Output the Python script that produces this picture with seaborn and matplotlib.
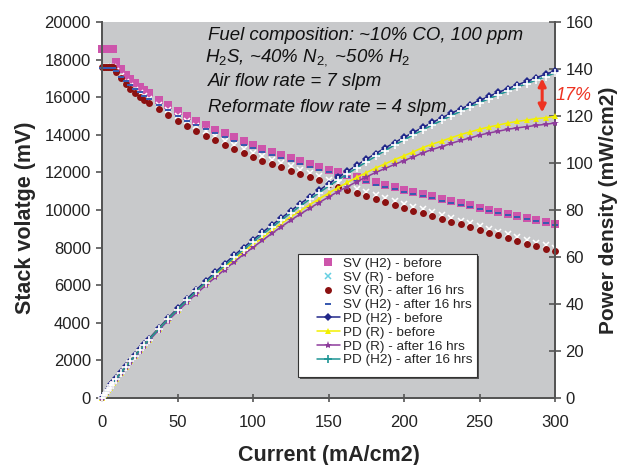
import matplotlib
matplotlib.use("Agg")
import matplotlib.pyplot as plt
import seaborn as sns
from matplotlib.lines import Line2D
from matplotlib.patches import Rectangle

# ---------------- data ----------------
current = [0, 1.25, 2.5, 3.75, 5, 6.25, 7.5, 9.375, 12.5, 15.625, 18.75, 21.875, 25, 28.125, 31.25,
           37.5, 43.75, 50, 56.25, 62.5, 68.75, 75, 81.25, 87.5, 93.75, 100, 106.25, 112.5, 118.75,
           125, 131.25, 137.5, 143.75, 150, 156.25, 162.5, 168.75, 175, 181.25, 187.5, 193.75, 200,
           206.25, 212.5, 218.75, 225, 231.25, 237.5, 243.75, 250, 256.25, 262.5, 268.75, 275,
           281.25, 287.5, 293.75, 300]

sv_h2_before = [18550, 18550, 18550, 18550, 18550, 18550, 18550, 17850, 17480, 17200, 16960, 16740,
                16550, 16370, 16200, 15860, 15560, 15260, 14990, 14740, 14500, 14280, 14070, 13870,
                13660, 13460, 13270, 13080, 12900, 12740, 12590, 12440, 12290, 12150, 12010, 11870,
                11740, 11610, 11480, 11350, 11220, 11090, 10960, 10840, 10720, 10600, 10480, 10360,
                10240, 10130, 10020, 9910, 9800, 9690, 9580, 9480, 9380, 9280]
sv_r_before = [17580, 17580, 17580, 17580, 17580, 17580, 17580, 17420, 17110, 16830, 16600, 16400,
               16220, 16060, 15900, 15610, 15320, 15010, 14720, 14480, 14190, 13950, 13690, 13460,
               13270, 13050, 12850, 12680, 12500, 12330, 12150, 11960, 11790, 11620, 11460, 11290,
               11130, 10960, 10800, 10630, 10470, 10310, 10160, 10030, 9880, 9720, 9580, 9440,
               9290, 9150, 9000, 8850, 8710, 8560, 8410, 8270, 8120, 7990]
sv_r_after = [17600, 17600, 17600, 17600, 17600, 17600, 17600, 17350, 17000, 16700, 16450, 16230,
              16020, 15850, 15680, 15380, 15070, 14750, 14460, 14220, 13940, 13700, 13450, 13230,
              13040, 12820, 12620, 12450, 12270, 12100, 11920, 11740, 11570, 11400, 11240, 11070,
              10910, 10750, 10590, 10420, 10260, 10100, 9950, 9820, 9670, 9510, 9370, 9230,
              9080, 8950, 8800, 8650, 8510, 8360, 8210, 8070, 7930, 7800]
sv_h2_after = [17570, 17570, 17570, 17570, 17570, 17570, 17570, 17380, 17080, 16850, 16640, 16440,
               16250, 16080, 15920, 15600, 15300, 15020, 14760, 14510, 14290, 14070, 13870, 13670,
               13480, 13290, 13100, 12920, 12750, 12590, 12440, 12290, 12150, 12010, 11870, 11740,
               11610, 11480, 11350, 11230, 11110, 10980, 10860, 10740, 10620, 10500, 10390, 10270,
               10160, 10050, 9940, 9830, 9720, 9620, 9510, 9410, 9310, 9220]

pd_h2_before = [0, 1.16, 2.32, 3.48, 4.64, 5.8, 6.96, 8.37, 10.93, 13.44, 15.9, 18.31, 20.69, 23.02,
                25.31, 29.74, 34.04, 38.15, 42.16, 46.06, 49.84, 53.55, 57.16, 60.68, 64.03, 67.3,
                70.5, 73.58, 76.59, 79.63, 82.62, 85.53, 88.33, 91.13, 93.83, 96.44, 99.06, 101.59,
                104.04, 106.41, 108.69, 110.9, 113.03, 115.18, 117.25, 119.25, 121.18, 123.03,
                124.8, 126.63, 128.38, 130.07, 131.69, 133.24, 134.72, 136.28, 137.77, 139.2]
pd_r_before = [0, 1.1, 2.2, 3.3, 4.4, 5.49, 6.59, 8.17, 10.69, 13.15, 15.56, 17.94, 20.28, 22.58,
               24.84, 29.27, 33.51, 37.53, 41.4, 45.25, 48.78, 52.31, 55.62, 58.89, 62.2, 65.25,
               68.27, 71.33, 74.22, 77.06, 79.73, 82.23, 84.74, 87.15, 89.53, 91.73, 93.91, 95.9,
               97.88, 99.66, 101.43, 103.1, 104.78, 106.57, 108.06, 109.35, 110.77, 112.1, 113.22,
               114.38, 115.31, 116.16, 117.04, 117.7, 118.27, 118.88, 119.26, 119.85]
pd_r_after = [0, 1.1, 2.2, 3.3, 4.4, 5.5, 6.6, 8.13, 10.63, 13.05, 15.42, 17.75, 20.03, 22.29, 24.5,
              28.84, 32.97, 36.88, 40.67, 44.44, 47.92, 51.38, 54.64, 57.88, 61.13, 64.1, 67.04,
              70.03, 72.85, 75.63, 78.23, 80.71, 83.16, 85.5, 87.81, 89.94, 92.05, 94.06, 95.97,
              97.69, 99.39, 101.0, 102.61, 104.34, 105.77, 106.99, 108.34, 109.61, 110.66, 111.88,
              112.75, 113.53, 114.35, 114.95, 115.45, 116.01, 116.47, 117.0]
pd_h2_after = [0, 1.1, 2.2, 3.29, 4.39, 5.49, 6.59, 8.15, 10.68, 13.16, 15.6, 17.98, 20.31, 22.61,
               24.88, 29.25, 33.47, 37.55, 41.51, 45.34, 49.12, 52.76, 56.35, 59.81, 63.19, 66.45,
               69.59, 72.68, 75.7, 78.69, 81.64, 84.49, 87.33, 90.08, 92.73, 95.39, 97.96, 100.45,
               102.86, 105.28, 107.63, 109.8, 111.99, 114.11, 116.16, 118.13, 120.13, 121.96,
               123.83, 125.63, 127.36, 129.02, 130.61, 132.28, 133.73, 135.27, 136.74, 138.3]

labels = ["SV (H2) - before", "SV (R) - before", "SV (R) - after 16 hrs", "SV (H2) - after 16 hrs",
          "PD (H2) - before", "PD (R) - before", "PD (R) - after 16 hrs", "PD (H2) - after 16 hrs"]
annot_lines = ["Fuel composition: ~10% CO, 100 ppm",
               r"H$_\mathit{2}$S, ~40% N$_\mathit{2,}$ ~50% H$_\mathit{2}$",
               "Air flow rate = 7 slpm",
               "Reformate flow rate = 4 slpm"]

# ---------------- style ----------------
sns.set_style("white")
plt.rcParams["font.family"] = ["Liberation Sans", "DejaVu Sans"]
plt.rcParams["mathtext.fontset"] = "custom"
plt.rcParams["mathtext.rm"] = "Liberation Sans"
plt.rcParams["mathtext.it"] = "Liberation Sans:italic"

W, H = 625, 465
fig = plt.figure(figsize=(6.25, 4.65), dpi=100)
ax = fig.add_axes([102 / W, 1 - 398 / H, 453 / W, 376 / H])
ax.set_facecolor("#C8C9CB")
ax2 = ax.twinx()

dash_marker = [(-1, -0.45), (1, -0.45), (1, 0.45), (-1, 0.45), (-1, -0.45)]

sv_styles = [
    (sv_h2_before, dict(color="#CD55AB", marker="s", markersize=5.5, markeredgewidth=0)),
    (sv_r_before, dict(color="#66D0E2", marker="x", markersize=4.5, markeredgewidth=1.1)),
    (sv_r_after, dict(color="#8B1010", marker="o", markersize=5, markeredgewidth=0)),
    (sv_h2_after, dict(color="#3A5BB0", marker=dash_marker, markersize=4.5, markeredgewidth=0)),
]
for vals, st in sv_styles:
    sns.lineplot(x=current, y=vals, ax=ax, linestyle="none", clip_on=False, zorder=3, **st)

pd_styles = [
    (pd_h2_before, dict(color="#22288A", marker="D", markersize=3.8, markeredgewidth=0)),
    (pd_r_before, dict(color="#F2F000", marker="^", markersize=4.5, markeredgewidth=0)),
    (pd_r_after, dict(color="#8E3C9C", marker="*", markersize=6, markeredgewidth=0)),
    (pd_h2_after, dict(color="#1E9595", marker="+", markersize=5.5, markeredgewidth=1.2)),
]
for vals, st in pd_styles:
    sns.lineplot(x=current, y=vals, ax=ax2, linewidth=1.1, clip_on=False, zorder=3, **st)

for a in (ax, ax2):
    if a.get_legend() is not None:
        a.get_legend().remove()

ax.set_xlim(0, 300)
ax.set_ylim(0, 20000)
ax2.set_ylim(0, 160)
ax.set_xticks(range(0, 301, 50))
ax.set_yticks(range(0, 20001, 2000))
ax2.set_yticks(range(0, 161, 20))

for a in (ax, ax2):
    for s in a.spines.values():
        s.set_color("#555555")
        s.set_linewidth(1.4)
ax.spines["top"].set_visible(False)
ax2.spines["top"].set_visible(False)

ax.tick_params(axis="y", direction="out", length=4, width=1.2, color="#555555",
               labelsize=12, labelcolor="#222222", left=True, pad=4)
ax.tick_params(axis="x", direction="inout", length=6, width=1.2, color="#555555",
               labelsize=12, labelcolor="#222222", bottom=True, pad=9)
ax2.tick_params(axis="y", direction="inout", length=8, width=1.2, color="#555555",
                labelsize=12, labelcolor="#222222", right=True)

ax.set_xlabel("Current (mA/cm2)", fontsize=15.5, fontweight="bold", labelpad=11)
ax.set_ylabel("Stack volatge (mV)", fontsize=15.5, fontweight="bold")
ax.yaxis.set_label_coords((36 - 102) / 453, (398 - 218) / 376)
ax2.set_ylabel("Power density (mW/cm2)", fontsize=15, fontweight="bold", labelpad=4)

# annotation text
ys = [35, 58, 82, 107]
xs = [208, 205, 208, 208]
for t, yp, xp in zip(annot_lines, ys, xs):
    fig.text(xp / W, 1 - yp / H, t, fontsize=13.4, style="italic", va="center", ha="left",
             color="#111111")

# arrow and 17%
ax2.annotate("", xy=(291.5, 121.5), xytext=(291.5, 136),
             arrowprops=dict(arrowstyle="<|-|>", color="#EE3322", lw=2.2, mutation_scale=11,
                             shrinkA=0, shrinkB=0))
fig.text(574 / W, 1 - 95 / H, "17%", color="#EE3322", fontsize=13, style="italic",
         ha="center", va="center")

# legend frame (with shadow) drawn as patches, legend itself frameless
bx0, by0, bx1, by1 = 298, 254, 477, 377
fig.patches.append(Rectangle(((bx0 + 2) / W, 1 - (by1 + 2) / H), (bx1 - bx0) / W, (by1 - by0) / H,
                             transform=fig.transFigure, facecolor="#555555", edgecolor="none",
                             zorder=4))
fig.patches.append(Rectangle((bx0 / W, 1 - by1 / H), (bx1 - bx0) / W, (by1 - by0) / H,
                             transform=fig.transFigure, facecolor="white", edgecolor="#333333",
                             linewidth=0.8, zorder=4))

handles = ax.get_lines()[:4] + ax2.get_lines()[:4]
handles = [Line2D([], [], color=h.get_color(), marker=h.get_marker(),
                  markersize=h.get_markersize(), markeredgewidth=h.get_markeredgewidth(),
                  linestyle=h.get_linestyle(), linewidth=h.get_linewidth()) for h in handles]
leg = fig.legend(handles, labels, loc="upper left", bbox_to_anchor=(317 / W, 1 - 257.5 / H),
                 bbox_transform=fig.transFigure, fontsize=9.7, frameon=False,
                 numpoints=1, handlelength=1.7, handletextpad=0.22, borderpad=0,
                 labelspacing=0.1, borderaxespad=0)
leg.set_zorder(5)

fig.savefig("out.png", dpi=100)
